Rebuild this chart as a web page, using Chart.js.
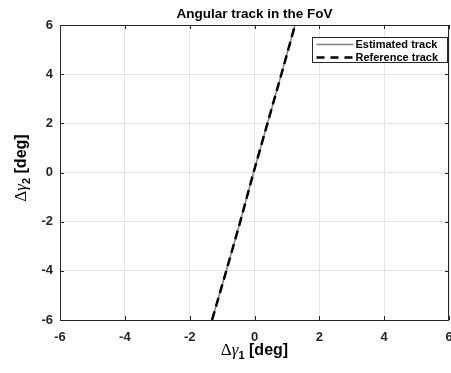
<!DOCTYPE html>
<html><head><meta charset="utf-8">
<script src="https://cdn.jsdelivr.net/npm/chart.js@4/dist/chart.umd.min.js"></script>
<style>html,body{margin:0;padding:0;background:#fff;overflow:hidden}#wrap{width:451px;height:373px}</style>
</head><body><div id="wrap"><canvas id="c" width="451" height="373"></canvas></div>
<script>
const chartTitle = 'Angular track in the FoV';
const seriesNames = ['Estimated track', 'Reference track'];
const xTicks = [-6, -4, -2, 0, 2, 4, 6];
const yTicks = [-6, -4, -2, 0, 2, 4, 6];
const estGamma1 = [-1.31, -0.87, -0.44, -0.03, 0.40, 0.83, 1.25];
const estGamma2 = [-6, -4, -2, 0, 2, 4, 6];
const refGamma1 = [-1.31, -0.87, -0.44, -0.03, 0.40, 0.83, 1.25];
const refGamma2 = [-6, -4, -2, 0, 2, 4, 6];

const SANS = '"Liberation Sans", Arial, sans-serif';
const SERIF = '"Liberation Serif", "Times New Roman", serif';
const toPts = (xs, ys) => xs.map((x, i) => ({ x: x, y: ys[i] }));

const decor = {
  id: 'decor',
  afterDraw(chart) {
    const ctx = chart.ctx, a = chart.chartArea;
    const xs = chart.scales.x, ys = chart.scales.y;
    ctx.save();
    ctx.strokeStyle = '#262626';
    ctx.lineWidth = 1;
    ctx.strokeRect(Math.round(a.left) + 0.5, Math.round(a.top) + 0.5, Math.round(a.right - a.left) - 1, Math.round(a.bottom - a.top));
    ctx.beginPath();
    const tl = 4;
    xTicks.forEach(v => {
      const px = Math.round(xs.getPixelForValue(v)) + 0.5;
      ctx.moveTo(px, a.bottom); ctx.lineTo(px, a.bottom - tl);
      ctx.moveTo(px, a.top); ctx.lineTo(px, a.top + tl);
    });
    yTicks.forEach(v => {
      const py = Math.round(ys.getPixelForValue(v)) + 0.5;
      ctx.moveTo(a.left, py); ctx.lineTo(a.left + tl, py);
      ctx.moveTo(a.right, py); ctx.lineTo(a.right - tl, py);
    });
    ctx.stroke();

    function drawLabel(sub) {
      const parts = [
        { t: '\u0394', f: '17px ' + SERIF, dy: 0 },
        { t: '\u03B3', f: 'italic 17px ' + SERIF, dy: 0 },
        { t: sub, f: 'bold 11px ' + SANS, dy: 4 },
        { t: ' [deg]', f: 'bold 16px ' + SANS, dy: 0 }
      ];
      let w = 0;
      parts.forEach(p => { ctx.font = p.f; p.w = ctx.measureText(p.t).width; w += p.w; });
      let x = -w / 2;
      ctx.fillStyle = '#000';
      ctx.textBaseline = 'alphabetic';
      ctx.textAlign = 'left';
      parts.forEach(p => { ctx.font = p.f; ctx.fillText(p.t, x, p.dy); x += p.w; });
    }
    ctx.save();
    ctx.translate((a.left + a.right) / 2, 355);
    drawLabel('1');
    ctx.restore();
    ctx.save();
    ctx.translate(26, 168);
    ctx.rotate(-Math.PI / 2);
    drawLabel('2');
    ctx.restore();

    const lw = 135, lh = 25;
    const lx = Math.round(a.right - 2 - lw) + 0.5, ly = Math.round(a.top + 12) + 0.5;
    ctx.fillStyle = '#fff';
    ctx.fillRect(lx, ly, lw, lh);
    ctx.strokeStyle = '#262626';
    ctx.lineWidth = 1;
    ctx.strokeRect(lx, ly, lw, lh);
    const ds = chart.data.datasets;
    [ds[0], ds[1]].forEach((d, i) => {
      const y = ly + 7 + i * 13;
      ctx.beginPath();
      ctx.strokeStyle = d.borderColor;
      ctx.lineWidth = d.borderWidth;
      ctx.setLineDash(i === 1 ? [8, 6] : []);
      ctx.moveTo(lx + 4, y); ctx.lineTo(lx + 41, y);
      ctx.stroke();
      ctx.setLineDash([]);
      ctx.fillStyle = '#000';
      ctx.font = 'bold 11px ' + SANS;
      ctx.textBaseline = 'middle';
      ctx.textAlign = 'left';
      ctx.fillText(d.label, lx + 43, y + 0.5);
    });
    ctx.restore();
  }
};

new Chart(document.getElementById('c'), {
  type: 'scatter',
  data: {
    datasets: [
      { label: seriesNames[0], data: toPts(estGamma1, estGamma2), showLine: true, borderColor: '#808080', backgroundColor: '#808080', borderWidth: 1.5, pointRadius: 0, order: 1 },
      { label: seriesNames[1], data: toPts(refGamma1, refGamma2), showLine: true, borderColor: '#000000', backgroundColor: '#000000', borderWidth: 2.5, borderDash: [9, 5], pointRadius: 0, order: 0 }
    ]
  },
  options: {
    responsive: false,
    animation: false,
    layout: { padding: { left: 0, right: 2, top: 0, bottom: 0 } },
    plugins: {
      legend: { display: false },
      tooltip: { enabled: false },
      title: {
        display: true, text: chartTitle, fullSize: false, color: '#000',
        font: { family: SANS, size: 13.5, weight: 'bold', lineHeight: 1.2 },
        padding: { top: 6.5, bottom: 2.3 }
      }
    },
    scales: {
      x: {
        type: 'linear', min: -6, max: 6,
        afterBuildTicks: s => { s.ticks = xTicks.map(v => ({ value: v })); },
        afterFit: s => { s.height = 53; s.paddingLeft = 0; s.paddingRight = 0; },
        grid: { color: '#e4e4e4', drawTicks: false, lineWidth: 1 },
        border: { display: false },
        ticks: { color: '#262626', padding: 10, font: { family: SANS, size: 13, weight: 'bold' }, maxRotation: 0, autoSkip: false }
      },
      y: {
        type: 'linear', min: -6, max: 6,
        afterBuildTicks: s => { s.ticks = yTicks.map(v => ({ value: v })); },
        afterFit: s => { s.width = 60; s.paddingTop = 0; s.paddingBottom = 0; },
        grid: { color: '#e4e4e4', drawTicks: false, lineWidth: 1 },
        border: { display: false },
        ticks: { color: '#262626', padding: 7, font: { family: SANS, size: 13, weight: 'bold' }, autoSkip: false }
      }
    }
  },
  plugins: [decor]
});
</script>
</body></html>
